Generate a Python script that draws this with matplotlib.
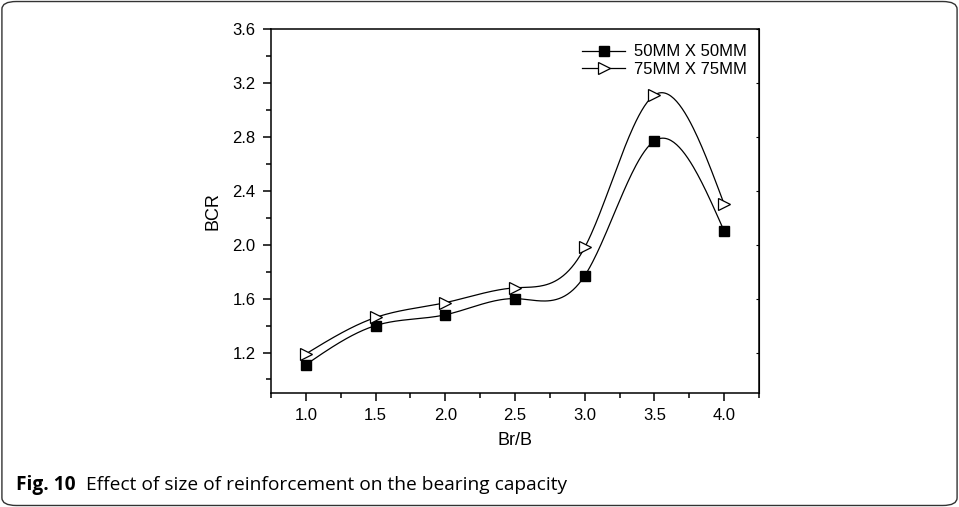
import numpy as np
import matplotlib
matplotlib.use("Agg")
import matplotlib.pyplot as plt
from matplotlib.patches import FancyBboxPatch
from matplotlib.ticker import MultipleLocator, FormatStrFormatter

# data
br_b = [1.0, 1.5, 2.0, 2.5, 3.0, 3.5, 4.0]
bcr_50 = [1.11, 1.40, 1.48, 1.60, 1.77, 2.77, 2.10]
bcr_75 = [1.19, 1.46, 1.57, 1.68, 1.98, 3.11, 2.30]
labels = ["50MM X 50MM", "75MM X 75MM"]
caption_bold = "Fig. 10"
caption_text = "Effect of size of reinforcement on the bearing capacity"


# natural cubic spline, only used to draw the smooth connecting line
def spline(x, y, n=300):
  x = np.asarray(x, float)
  y = np.asarray(y, float)
  k = len(x)
  h = np.diff(x)
  A = np.zeros((k, k))
  r = np.zeros(k)
  A[0, 0] = A[-1, -1] = 1.0
  for i in range(1, k - 1):
    A[i, i - 1] = h[i - 1]
    A[i, i] = 2 * (h[i - 1] + h[i])
    A[i, i + 1] = h[i]
    r[i] = 3 * ((y[i + 1] - y[i]) / h[i] - (y[i] - y[i - 1]) / h[i - 1])
  c = np.linalg.solve(A, r)
  xs = np.linspace(x[0], x[-1], n)
  idx = np.clip(np.searchsorted(x, xs) - 1, 0, k - 2)
  dx = xs - x[idx]
  b = (y[1:] - y[:-1]) / h - h * (2 * c[:-1] + c[1:]) / 3
  d = (c[1:] - c[:-1]) / (3 * h)
  ys = y[idx] + b[idx] * dx + c[idx] * dx**2 + d[idx] * dx**3
  return xs, ys


plt.rcParams["font.family"] = ["Liberation Sans", "DejaVu Sans"]

fig = plt.figure(figsize=(9.59, 5.07), dpi=100)
ax = fig.add_axes([0.2826, 0.2249, 0.5089, 0.7179])

# spline lines
for yv in (bcr_50, bcr_75):
  xs, ys = spline(br_b, yv)
  ax.plot(xs, ys, c="black", lw=0.9, zorder=2)

# markers (plus legend handles that show line + marker)
ax.plot(br_b, bcr_50, ls="none", marker="s", ms=7, mfc="black", mec="black", zorder=3)
ax.plot(br_b, bcr_75, ls="none", marker=">", ms=9, mfc="white", mec="black", mew=0.9, zorder=3)
h1, = ax.plot([], [], c="black", lw=0.9, marker="s", ms=7, mfc="black", mec="black", label=labels[0])
h2, = ax.plot([], [], c="black", lw=0.9, marker=">", ms=9, mfc="white", mec="black", mew=0.9, label=labels[1])
ax.legend(handles=[h1, h2], loc="upper right", frameon=False, fontsize=12,
          handlelength=2.6, handletextpad=0.5, labelspacing=0.15,
          bbox_to_anchor=(0.995, 0.985), borderaxespad=0.2)

ax.set_xlim(0.75, 4.25)
ax.set_ylim(0.9, 3.6)
ax.xaxis.set_major_locator(MultipleLocator(0.5))
ax.xaxis.set_minor_locator(MultipleLocator(0.25))
ax.yaxis.set_minor_locator(MultipleLocator(0.2))
ax.set_yticks(np.arange(1.2, 3.61, 0.4))
ax.xaxis.set_major_formatter(FormatStrFormatter("%.1f"))
ax.yaxis.set_major_formatter(FormatStrFormatter("%.1f"))

ax.tick_params(which="major", direction="out", length=6, width=1.1, labelsize=12, pad=5)
ax.tick_params(which="minor", direction="out", length=3.5, width=1.1)
for s in ax.spines.values():
  s.set_linewidth(1.1)

ax.set_xlabel("Br/B", fontsize=13, labelpad=6)
ax.set_ylabel("BCR", fontsize=13, labelpad=8)

# right side: tiny nubs only
ax2 = ax.secondary_yaxis("right")
ax2.set_yticks(np.arange(1.2, 3.61, 0.4))
ax2.tick_params(direction="in", length=2, labelright=False)

# caption
t1 = fig.text(16 / 959, 0.033, caption_bold, fontsize=13.8, fontweight="bold", family="Open Sans")
fig.canvas.draw()
x1 = t1.get_window_extent().x1
fig.text((x1 + 10) / 959, 0.033, caption_text, fontsize=13.8, family="Open Sans")

# rounded frame around whole figure
frame = FancyBboxPatch((0.002, 0.003), 0.996, 0.994, boxstyle="round,pad=0,rounding_size=0.015",
                       transform=fig.transFigure, fill=False, ec="#333333", lw=1.0)
fig.patches.append(frame)

fig.savefig("out.png", dpi=100)
